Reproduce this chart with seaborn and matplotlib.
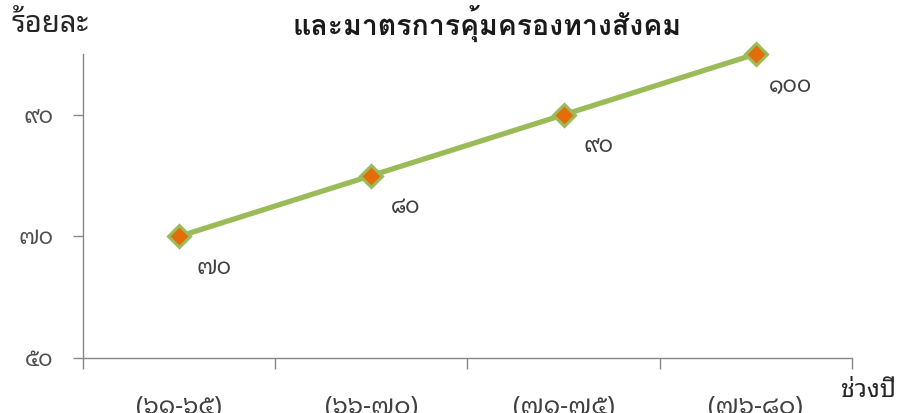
import matplotlib
matplotlib.use('Agg')
import matplotlib.pyplot as plt
import seaborn as sns
import pandas as pd
import numpy as np

# ── Datos ──────────────────────────────────────────────────────────────────
periodos  = ['(๖๑-๖๕)', '(๖๖-๗๐)', '(๗๑-๗๕)', '(๗๖-๘๐)']
valores   = [70, 80, 90, 100]
etiquetas = ['๗๐', '๘๐', '๙๐', '๑๐๐']
yticks    = [50, 70, 90]
ytick_lab = ['๕๐', '๗๐', '๙๐']

titulo  = 'และมาตรการคุ้มครองทางสังคม'
ylabel  = 'ร้อยละ'
xlabel  = 'ช่วงปี'

verde   = '#9BBB59'
naranja = '#E46C0A'
gris    = '#868686'

sns.set_style('ticks')
plt.rcParams['font.family'] = ['Noto Sans Thai Looped', 'Loma', 'DejaVu Sans']

df = pd.DataFrame({'periodo': periodos, 'valor': valores})

fig = plt.figure(figsize=(8.99, 4.13), dpi=100)
ax = fig.add_axes([0.0923, 0.1332, 0.8554, 0.736])

sns.lineplot(data=df, x='periodo', y='valor', ax=ax, color=verde, lw=3.8,
             marker='D', markersize=11, markerfacecolor=naranja,
             markeredgecolor=verde, markeredgewidth=2.2, zorder=3, clip_on=False)

for i, (v, t) in enumerate(zip(valores, etiquetas)):
    ax.annotate(t, (i, v), textcoords='offset points', xytext=(25, -23),
                ha='center', va='center', fontsize=16, color='#404040')

ax.set_xlim(-0.5, len(periodos) - 0.5)
ax.set_ylim(50, 100)
ax.set_yticks(yticks)
ax.set_yticklabels(ytick_lab)
ax.set_xticks(np.arange(-0.5, len(periodos)), minor=True)
ax.tick_params(axis='x', which='major', length=0, pad=26, labelsize=18, labelcolor='#404040')
ax.tick_params(axis='x', which='minor', length=8, width=1, color=gris)
ax.tick_params(axis='y', length=7.5, width=1, color=gris, pad=14, labelsize=16, labelcolor='#505050')
ax.set_xlabel('')
ax.set_ylabel('')
sns.despine(ax=ax)
for s in ['left', 'bottom']:
    ax.spines[s].set_color(gris)
    ax.spines[s].set_linewidth(1)

fig.text(0.542, 0.94, titulo, ha='center', va='center', fontsize=20.5, fontweight='bold',
         color='#1a1a1a', family=['Loma', 'DejaVu Sans'])
fig.text(0.013, 0.94, ylabel, ha='left', va='center', fontsize=21, color='#262626')
fig.text(0.936, 0.055, xlabel, ha='left', va='center', fontsize=18, color='#262626')

plt.savefig('out.png', dpi=100)
plt.close()
